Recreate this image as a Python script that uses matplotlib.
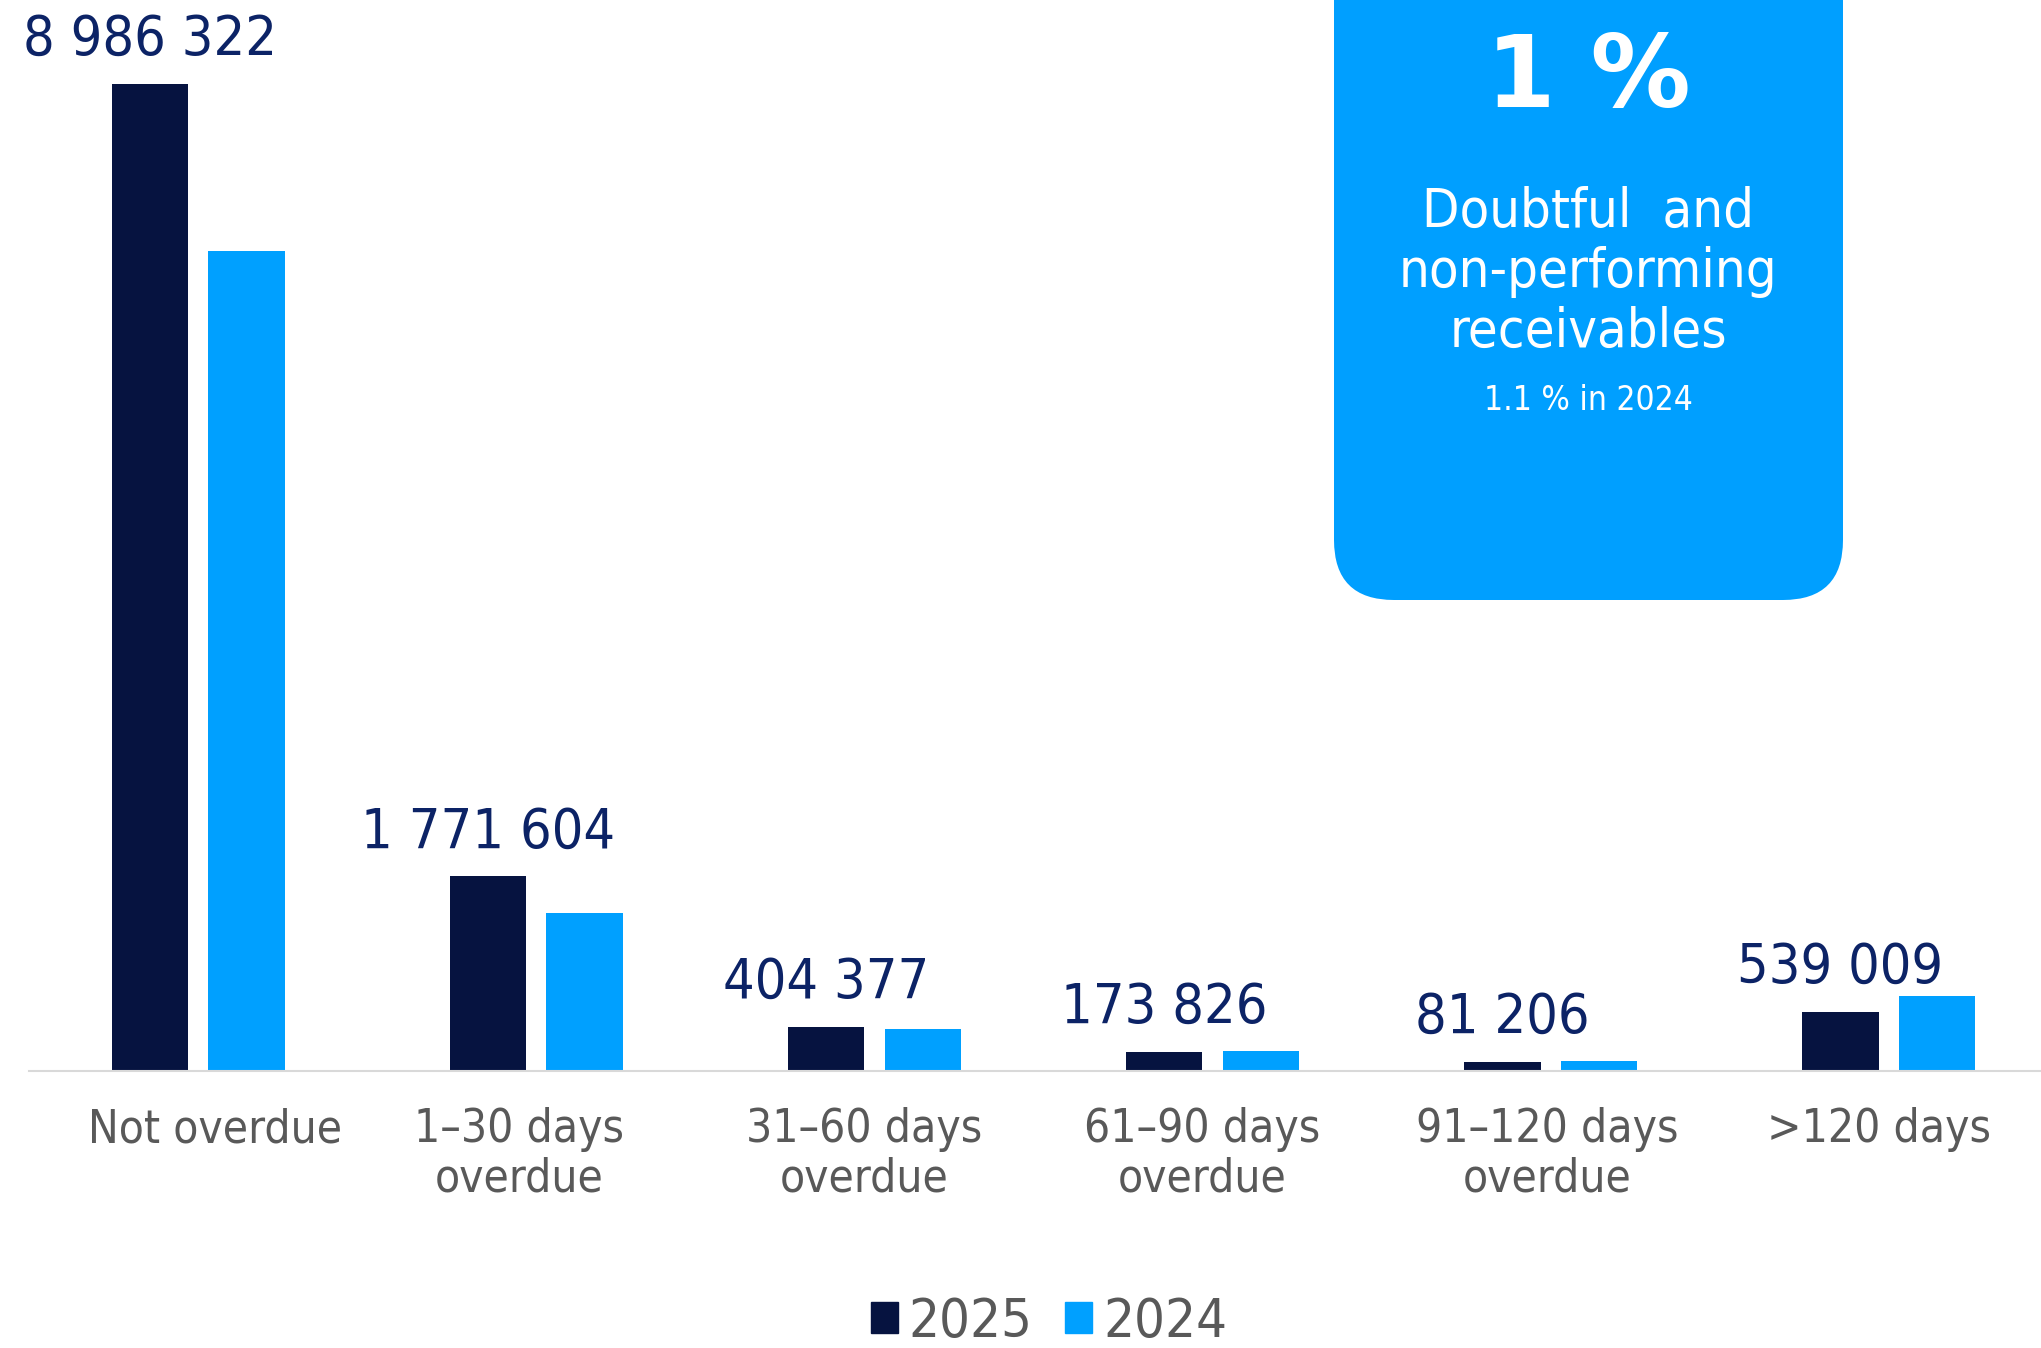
import matplotlib.pyplot as plt
import numpy as np
from matplotlib.patches import FancyBboxPatch, Patch
from matplotlib.transforms import IdentityTransform

categories = ["Not overdue", "1\u201330 days\noverdue", "31\u201360 days\noverdue",
              "61\u201390 days\noverdue", "91\u2013120 days\noverdue", ">120 days"]
values_2025 = [8986322, 1771604, 404377, 173826, 81206, 539009]
values_2024 = [7470000, 1440000, 380000, 182000, 90000, 680000]
labels_2025 = ["8 986 322", "1 771 604", "404 377", "173 826", "81 206", "539 009"]

navy = "#061340"
blue = "#00A0FF"
label_col = "#0C2366"
gray = "#595959"

plt.rcParams["font.family"] = ["DejaVu Sans"]
plt.rcParams["font.stretch"] = "condensed"

W, H = 2041, 1348
fig = plt.figure(figsize=(W / 100, H / 100), dpi=100)
ax = fig.add_axes([29 / W, 1 - 1071 / H, 1 - 29 / W, 1071 / H])

x = np.arange(len(categories))
bw = 0.226
ax.bar(x - 0.143, values_2025, bw, color=navy)
ax.bar(x + 0.143, values_2024, bw, color=blue)

for xi, v, lab in zip(x, values_2025, labels_2025):
    ax.annotate(lab, (xi - 0.143, v), xytext=(0, 21), textcoords="offset points",
                ha="center", va="baseline", fontsize=40, color=label_col)

ax.set_xlim(-0.5, 5.45)
ax.set_ylim(0, 9754000)
ax.set_yticks([])
for s in ["top", "right", "left"]:
    ax.spines[s].set_visible(False)
ax.spines["bottom"].set_color("#D9D9D9")
ax.spines["bottom"].set_linewidth(1.5)
# small shifts of the category labels, as in the original layout
shift = [0.05, -0.05, -0.03, -0.03, -0.01, -0.03]
ax.set_xticks(x + np.array(shift))
ax.set_xticklabels(categories, fontsize=33, color=gray, linespacing=1.13)
ax.tick_params(axis="x", length=0, pad=26)

# callout box
box = FancyBboxPatch((1334, H - 600), 509, 700, boxstyle="round,pad=0,rounding_size=60",
                     transform=IdentityTransform(), facecolor="#009FFF", edgecolor="none")
fig.patches.append(box)
cx = 1588 / W
fig.text(cx, 1 - 80 / H, "1 %", ha="center", va="center", fontsize=72,
         fontweight="bold", fontstretch="normal", color="white")
fig.text(cx, 1 - 272 / H, "Doubtful  and\nnon-performing\nreceivables", ha="center",
         va="center", fontsize=39, color="white", linespacing=1.2)
fig.text(cx, 1 - 400 / H, "1.1 % in 2024", ha="center", va="center", fontsize=24,
         color="white")

handles = [Patch(color=navy, label="2025"), Patch(color=blue, label="2024")]
fig.legend(handles=handles, loc="center", bbox_to_anchor=(0.514, 1 - 1322 / H), ncol=2,
           frameon=False, fontsize=39, labelcolor=gray, handlelength=0.5,
           handleheight=0.5, handletextpad=0.2, columnspacing=0.6)

fig.savefig("out.png", dpi=100)
